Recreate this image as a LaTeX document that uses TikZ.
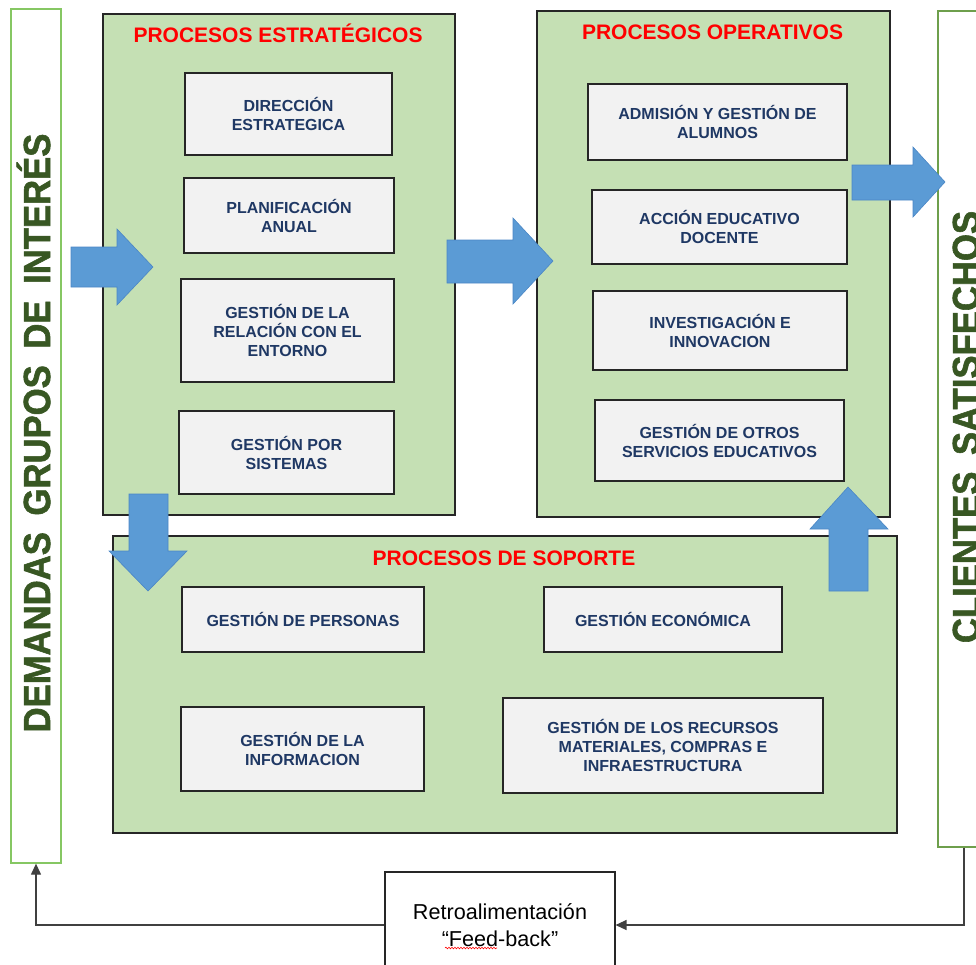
\documentclass[tikz,border=0pt]{standalone}
\usepackage{fontspec}
\setmainfont{Liberation Sans}
\newfontfamily\vfont[FakeBold=1.6]{Liberation Sans Bold}
\usetikzlibrary{arrows.meta,decorations.pathmorphing}
\definecolor{panelgreen}{HTML}{C5E0B4}
\definecolor{boxgray}{HTML}{F2F2F2}
\definecolor{navy}{HTML}{1F3864}
\definecolor{arrowblue}{HTML}{5B9BD5}
\definecolor{arrowedge}{HTML}{4A86C5}
\definecolor{darkgreen}{HTML}{385723}
\definecolor{barleft}{HTML}{86C763}
\definecolor{barright}{HTML}{6E9F4C}
\tikzset{
  panel/.style={draw=black!85, line width=1.3pt, fill=panelgreen, inner sep=0pt},
  ptitle/.style={text=red, font=\bfseries\fontsize{21}{24}\selectfont, anchor=base, inner sep=0pt},
  ibox/.style={draw=black!85, line width=1.2pt, fill=boxgray, text=navy, align=center,
    font=\bfseries\fontsize{16}{19}\selectfont, inner sep=0pt},
  bar/.style={line width=1.3pt, fill=white, inner sep=0pt},
  vtext/.style={rotate=90, anchor=base, text=darkgreen, inner sep=0pt,
    font=\vfont\fontsize{37.7}{40}\selectfont},
  bluearrow/.style={fill=arrowblue, draw=arrowedge, line width=0.6pt},
  conn/.style={draw=black!75, line width=1.3pt, -{Triangle[length=11pt,width=10pt]}},
}
\begin{document}
\begin{tikzpicture}[x=1pt,y=-1pt]
\useasboundingbox (0,0) rectangle (976,964);
% side bars
\node[bar, draw=barleft, minimum width=50pt, minimum height=854pt] (lbar) at (36,436) {};
\node[bar, draw=barright, minimum width=52pt, minimum height=836pt] (rbar) at (964,429) {};
\node[vtext] (ltext) at (50,433) {\scalebox{0.92}[1]{DEMANDAS\hspace{18pt}GRUPOS\hspace{18pt}DE\hspace{18pt}INTERÉS}};
\node[vtext] (rtext) at (979,427) {\scalebox{0.92}[1]{CLIENTES\hspace{18pt}SATISFECHOS}};
% panels
\node[panel, minimum width=352pt, minimum height=501pt] (strat) at (279,264.5) {};
\node[panel, minimum width=353pt, minimum height=506pt] (oper) at (713.5,264) {};
\node[panel, minimum width=784pt, minimum height=297pt] (sup) at (505,684.5) {};
\node[ptitle] (tstrat) at (278,42) {PROCESOS ESTRATÉGICOS};
\node[ptitle] (toper) at (712.5,39) {PROCESOS OPERATIVOS};
\node[ptitle] (tsup) at (504,565) {PROCESOS DE SOPORTE};
% strategic boxes
\node[ibox, minimum width=207pt, minimum height=82pt] (s1) at (288.5,114) {DIRECCIÓN\\ESTRATEGICA};
\node[ibox, minimum width=210pt, minimum height=75pt] (s2) at (289,215.5) {PLANIFICACIÓN\\ANUAL};
\node[ibox, minimum width=213pt, minimum height=103pt] (s3) at (287.5,330.5) {GESTIÓN DE LA\\RELACIÓN CON EL\\ENTORNO};
\node[ibox, minimum width=215pt, minimum height=83pt] (s4) at (286.5,452.5) {GESTIÓN POR\\SISTEMAS};
% operative boxes
\node[ibox, minimum width=259pt, minimum height=76pt] (o1) at (717.5,122) {ADMISIÓN Y GESTIÓN DE\\ALUMNOS};
\node[ibox, minimum width=255pt, minimum height=74pt] (o2) at (719.5,227) {ACCIÓN EDUCATIVO\\DOCENTE};
\node[ibox, minimum width=254pt, minimum height=79pt] (o3) at (720,330.5) {INVESTIGACIÓN E\\INNOVACION};
\node[ibox, minimum width=249pt, minimum height=81pt] (o4) at (719.5,440.5) {GESTIÓN DE OTROS\\SERVICIOS EDUCATIVOS};
% support boxes
\node[ibox, minimum width=242pt, minimum height=65pt] (p1) at (303,619.5) {GESTIÓN DE PERSONAS};
\node[ibox, minimum width=238pt, minimum height=65pt] (p2) at (663,619.5) {GESTIÓN ECONÓMICA};
\node[ibox, minimum width=243pt, minimum height=84pt] (p3) at (302.5,749) {GESTIÓN DE LA\\INFORMACION};
\node[ibox, minimum width=320pt, minimum height=95pt] (p4) at (663,745.5) {GESTIÓN DE LOS RECURSOS\\MATERIALES, COMPRAS E\\INFRAESTRUCTURA};
% block arrows
\draw[bluearrow] (71,247) -- (117,247) -- (117,229) -- (153,267) -- (117,305) -- (117,287) -- (71,287) -- cycle;
\draw[bluearrow] (447,240) -- (513,240) -- (513,218) -- (553,261) -- (513,304) -- (513,283) -- (447,283) -- cycle;
\draw[bluearrow] (852,165) -- (913,165) -- (913,147) -- (945,182) -- (913,217) -- (913,200) -- (852,200) -- cycle;
\draw[bluearrow] (129,494) -- (168,494) -- (168,551) -- (187,551) -- (148,591) -- (109,551) -- (129,551) -- cycle;
\draw[bluearrow] (829,591) -- (868,591) -- (868,529) -- (888,529) -- (848,487) -- (810,529) -- (829,529) -- cycle;
% feedback
\node[draw=black!85, line width=1.1pt, fill=white, minimum width=230pt, minimum height=106pt,
  align=center, font=\fontsize{21.6}{27}\selectfont, inner sep=0pt] (fb) at (500,925)
  {Retroalimentación\\“Feed-back”};
\draw[red, line width=0.6pt, decorate, decoration={snake, segment length=3pt, amplitude=0.8pt}] (445,948) -- (497,948);
\draw[conn] (rbar.south) |- (fb.east);
\draw[conn] (fb.west) -| (lbar.south);
\end{tikzpicture}
\end{document}
